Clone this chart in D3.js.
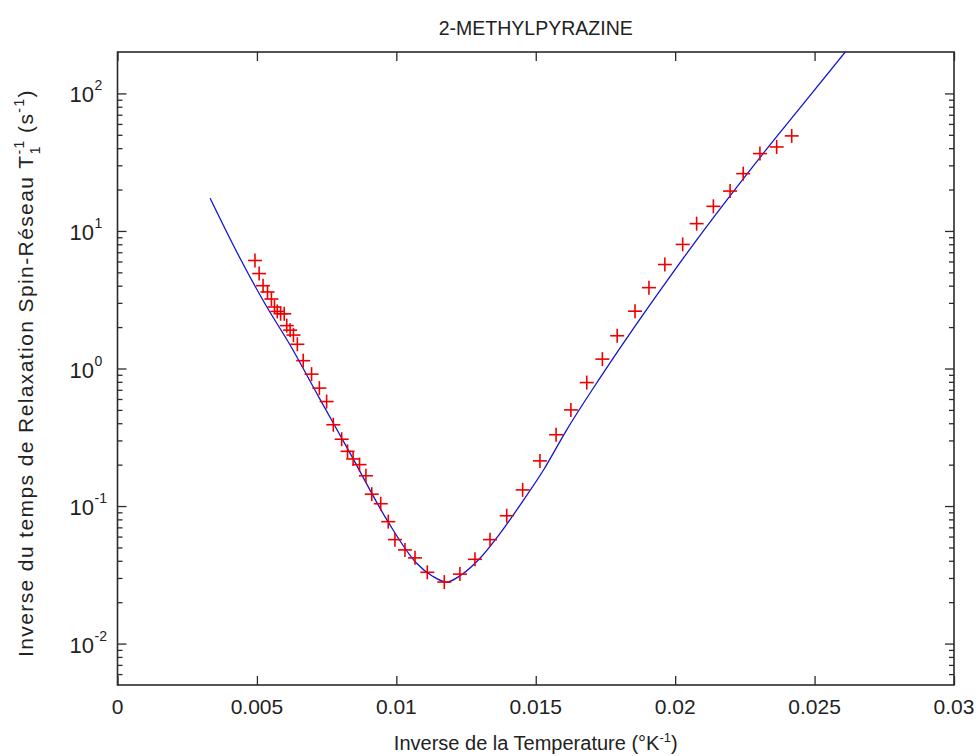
<!DOCTYPE html>
<html><head><meta charset="utf-8">
<script src="https://cdn.jsdelivr.net/npm/d3@7"></script>
<style>
html,body{margin:0;padding:0;background:#fff;}
text{font-family:"Liberation Sans",Arial,sans-serif;fill:#222;}
</style></head>
<body><svg id="c" width="980" height="756"></svg>
<script>
// Measured points (x = 1/T in K^-1, y = 1/T1 in s^-1)
const pointX = [0.00493,0.00508,0.00522,0.00538,0.00552,0.00563,0.00573,0.00585,0.00598,0.00607,0.00619,0.00631,0.00645,
  0.00666,0.00696,0.00724,0.0075,0.00774,0.00804,0.00825,0.00845,0.00868,0.00891,0.00912,0.00944,0.00971,0.00995,
  0.01031,0.01067,0.01111,0.01172,0.01228,0.01282,0.01336,0.01396,0.01453,0.01515,0.01573,0.01626,0.01683,0.01739,
  0.01792,0.01856,0.01906,0.01963,0.02027,0.02077,0.02137,0.02197,0.02244,0.02304,0.02364,0.02418];
const pointY = [6.1,4.9,4.0,3.6,3.2,2.8,2.6,2.5,2.5,2.05,1.9,1.75,1.5,
  1.14,0.91,0.72,0.575,0.39,0.306,0.25,0.22,0.2,0.166,0.122,0.104,0.077,0.057,
  0.048,0.042,0.033,0.028,0.032,0.041,0.057,0.085,0.131,0.213,0.33,0.50,0.79,1.17,
  1.73,2.61,3.87,5.7,7.98,11.3,15.1,19.5,26.1,36.5,40.8,49.1];
// Fitted curve
const fitX = [0.00332,0.0044,0.0053,0.0062,0.0072,0.0083,0.0097,0.0107,0.0113,0.0118,0.0123,0.013,0.0137,0.0145,
  0.0153,0.0161,0.0173,0.0185,0.0197,0.0209,0.0221,0.0233,0.0245,0.0261];
const fitY = [17.3,6.3,2.93,1.47,0.63,0.251,0.077,0.0389,0.0309,0.028,0.0313,0.0417,0.0624,0.106,
  0.186,0.355,0.851,1.95,4.32,9.33,19.5,39.8,79.4,200];
const xTicks = [0,0.005,0.01,0.015,0.02,0.025,0.03];
const yMajor = [1e-2,1e-1,1e0,1e1,1e2];
const yExp = ["-2","-1","0","1","2"];

const L=117.5, R=954, T=52, B=685;
const svg = d3.select("#c");
svg.append("rect").attr("width",980).attr("height",756).attr("fill","#fff");
const x = d3.scaleLinear().domain([0,0.03]).range([L,R]);
const y = d3.scaleLog().domain([0.005,200]).range([B,T]);

svg.append("defs").append("clipPath").attr("id","clip")
  .append("rect").attr("x",L).attr("y",T).attr("width",R-L).attr("height",B-T);

const yMinor = [];
for (let e=-3;e<=2;e++) for (let k=2;k<=9;k++){const v=k*Math.pow(10,e); if(v>0.005&&v<200) yMinor.push(v);}

const axCol="#2a2a2a";
const g = svg.append("g");
const yAxL = d3.axisRight(y).tickValues(yMajor).tickSize(9).tickFormat("");
const yAxR = d3.axisLeft(y).tickValues(yMajor).tickSize(9).tickFormat("");
const yAxLm = d3.axisRight(y).tickValues(yMinor).tickSize(5).tickFormat("");
const yAxRm = d3.axisLeft(y).tickValues(yMinor).tickSize(5).tickFormat("");
const xAxB = d3.axisTop(x).tickValues(xTicks).tickSize(9).tickFormat("");
const xAxT = d3.axisBottom(x).tickValues(xTicks).tickSize(9).tickFormat("");
[[yAxL,`translate(${L},0)`],[yAxLm,`translate(${L},0)`],[yAxR,`translate(${R},0)`],[yAxRm,`translate(${R},0)`],
 [xAxB,`translate(0,${B})`],[xAxT,`translate(0,${T})`]].forEach(([ax,tr])=>{
  const a=g.append("g").attr("transform",tr).call(ax);
  a.select(".domain").remove();
  a.selectAll("line").attr("stroke",axCol).attr("stroke-width",1.3);
});
g.append("rect").attr("x",L).attr("y",T).attr("width",R-L).attr("height",B-T)
  .attr("fill","none").attr("stroke",axCol).attr("stroke-width",1.6);

g.selectAll(".xl").data(xTicks).enter().append("text")
  .attr("x",d=>x(d)).attr("y",B+29).attr("text-anchor","middle").attr("font-size",21)
  .text(d=>d===0?"0":String(d));
yMajor.forEach((v,i)=>{
  g.append("text").attr("x",L-23.5).attr("y",y(v)+9).attr("text-anchor","end").attr("font-size",22).text("10");
  g.append("text").attr("x",L-23).attr("y",y(v)-3).attr("text-anchor","start").attr("font-size",14).text(yExp[i]);
});

svg.append("text").attr("x",(L+R)/2).attr("y",35).attr("text-anchor","middle").attr("font-size",19.5).text("2-METHYLPYRAZINE");
const xl = svg.append("text").attr("x",(L+R)/2).attr("y",750).attr("text-anchor","middle").attr("font-size",20);
xl.append("tspan").text("Inverse de la Temperature (°K");
xl.append("tspan").attr("dy",-8).attr("font-size",13).text("-1");
xl.append("tspan").attr("dy",8).text(")");

const yl = svg.append("text").attr("transform",`translate(33,373) rotate(-90)`).attr("text-anchor","middle")
  .attr("font-size",21).attr("letter-spacing",1.4);
yl.append("tspan").text("Inverse du temps de Relaxation Spin-Réseau T");
yl.append("tspan").attr("dy",-9).attr("font-size",14).text("-1");
yl.append("tspan").attr("dx",-14).attr("dy",16).attr("font-size",14).text("1");
yl.append("tspan").attr("dx",5).attr("dy",-7).text(" (s");
yl.append("tspan").attr("dy",-9).attr("font-size",14).text("-1");
yl.append("tspan").attr("dy",9).text(")");

const line = d3.line().x((d,i)=>x(fitX[i])).y((d,i)=>y(fitY[i])).curve(d3.curveMonotoneX);
svg.append("path").datum(fitX).attr("d",line).attr("fill","none").attr("stroke","#1414d0")
  .attr("stroke-width",1.3).attr("clip-path","url(#clip)");

const m = svg.append("g").attr("stroke","#ee0000").attr("stroke-width",1.6);
pointX.forEach((px,i)=>{
  const cx=x(px), cy=y(pointY[i]);
  m.append("line").attr("x1",cx-7).attr("x2",cx+7).attr("y1",cy).attr("y2",cy);
  m.append("line").attr("x1",cx).attr("x2",cx).attr("y1",cy-7).attr("y2",cy+7);
});
</script></body></html>
